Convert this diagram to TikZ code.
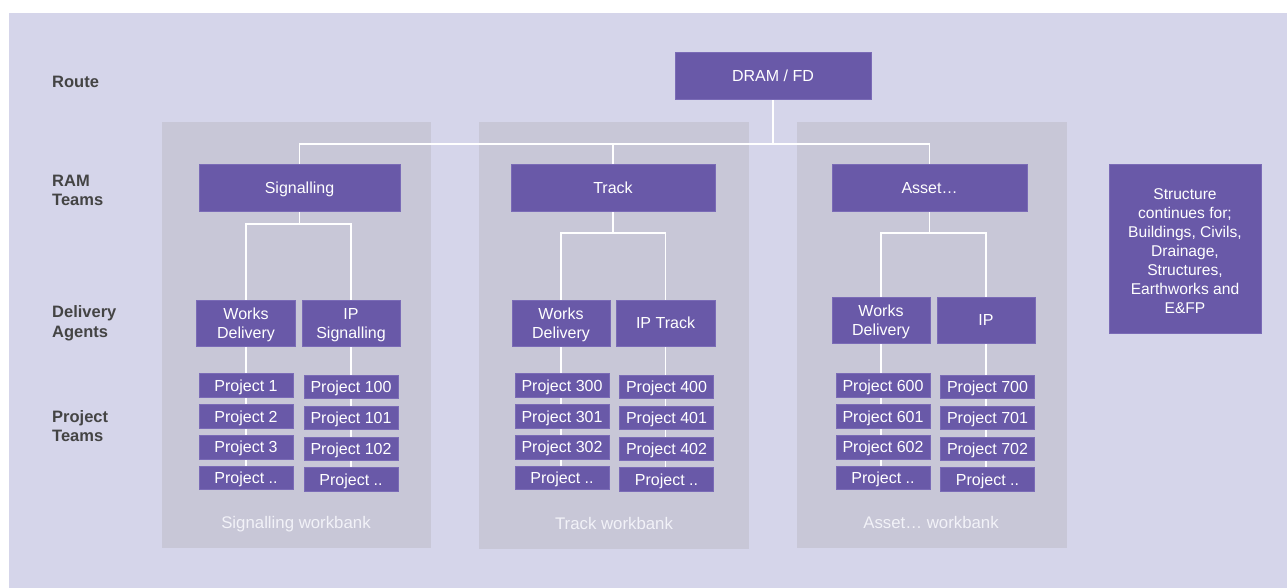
\documentclass[tikz,border=0pt]{standalone}
\usepackage{fontspec}
\setmainfont{Liberation Sans}
\definecolor{bglav}{HTML}{D5D5EA}
\definecolor{panel}{HTML}{C8C7D7}
\definecolor{purp}{HTML}{6959A8}
\definecolor{purpedge}{HTML}{7A6BB6}
\definecolor{lbl}{HTML}{444444}
\definecolor{wbtext}{HTML}{F2F2F8}
\pgfdeclarelayer{back}
\pgfdeclarelayer{mid}
\pgfsetlayers{back,mid,main}
\tikzset{
  box/.style={fill=purp, draw=purpedge, line width=0.6pt, text=white, inner sep=0pt, align=center,
    text depth=0pt, font=\fontsize{16}{19}\selectfont},
  proj/.style={box, minimum width=94pt, minimum height=23.5pt},
  deliv/.style={box, minimum width=98pt, minimum height=46pt},
  ram/.style={box, minimum height=47pt},
  panelbox/.style={fill=panel, draw=none},
  rowlabel/.style={anchor=west, inner sep=0pt, align=left, text=lbl, text depth=0pt,
    font=\fontsize{16.5}{19.5}\selectfont\bfseries},
  wblabel/.style={text=wbtext, inner sep=0pt, text depth=0pt, font=\fontsize{16.8}{19}\selectfont},
  conn/.style={draw=white, line width=1.5pt}
}
\begin{document}
\begin{tikzpicture}[x=1pt,y=-1pt]
\useasboundingbox (0,0) rectangle (1287,588);
\begin{pgfonlayer}{back}
\fill[white] (0,0) rectangle (1287,588);
\fill[bglav] (9,13) rectangle (1287,588);
% workbank panels
\fill[panelbox] (162,122) rectangle (431,548);
\fill[panelbox] (479,122) rectangle (749,549);
\fill[panelbox] (797,122) rectangle (1067,548);
\end{pgfonlayer}

% row labels
\node[rowlabel] (lroute) at (52,82) {Route};
\node[rowlabel] (lram) at (52,190.5) {RAM\\Teams};
\node[rowlabel] (ldel) at (52,321.5) {Delivery\\Agents};
\node[rowlabel] (lproj) at (52,426) {Project\\Teams};

% top
\node[box, minimum width=196pt, minimum height=47pt] (dram) at (773,75.5) {DRAM / FD};

% RAM teams
\node[ram, minimum width=201pt] (sig) at (299.5,187.5) {Signalling};
\node[ram, minimum width=204pt] (trk) at (613,187.5) {Track};
\node[ram, minimum width=195pt] (ast) at (929.5,187.5) {Asset\ldots};

% delivery agents
\node[deliv, minimum width=99pt] (sigwd) at (246,323) {Works\\Delivery};
\node[deliv] (sigip) at (351,323) {IP\\Signalling};
\node[deliv] (trkwd) at (561,323) {Works\\Delivery};
\node[deliv, minimum width=99pt] (trkip) at (665.5,323) {IP Track};
\node[deliv] (astwd) at (881,320) {Works\\Delivery};
\node[deliv] (astip) at (986,320) {IP};

% project stacks
\foreach \col/\cx/\lab/\yo in {sl/246/{1,2,3,..}/0, sr/351/{100,101,102,..}/1.5,
                               tl/562/{300,301,302,..}/0, tr/666.5/{400,401,402,..}/1.5,
                               al/883/{600,601,602,..}/0, ar/987.5/{700,701,702,..}/1.5} {
  \foreach \t [count=\i] in \lab {
    \pgfmathsetmacro{\py}{385.5+(\i-1)*30.8+\yo}
    \node[proj] (\col p\i) at (\cx,\py) {Project \t};
  }
}

% workbank labels
\node[wblabel] (wbs) at (296,522) {Signalling workbank};
\node[wblabel] (wbt) at (614,523) {Track workbank};
\node[wblabel] (wba) at (931,522) {Asset\ldots\ workbank};

% side note
\node[box, minimum width=152pt, minimum height=169pt, font=\fontsize{15.6}{19}\selectfont,
      text height=130pt] (more) at (1185,248.5)
  {Structure\\continues for;\\Buildings, Civils,\\Drainage,\\Structures,\\Earthworks and\\E\&FP};

% connectors
\begin{pgfonlayer}{mid}
\coordinate (topj) at (773,144);
\draw[conn] (dram.south) -- (topj);
\draw[conn] (sig.north) |- (ast.north |- topj) -- (ast.north);
\draw[conn] (trk.north) -- (trk.north |- topj);

\coordinate (sigj) at (299.5,224);
\draw[conn] (sig.south) -- (sigj);
\draw[conn] (sigwd.north) |- (sigip.north |- sigj) -- (sigip.north);
\coordinate (trkj) at (613,233);
\draw[conn] (trk.south) -- (trkj);
\draw[conn] (trkwd.north) |- (trkip.north |- trkj) -- (trkip.north);
\coordinate (astj) at (929.5,233);
\draw[conn] (ast.south) -- (astj);
\draw[conn] (astwd.north) |- (astip.north |- astj) -- (astip.north);

\draw[conn] (sigwd.south) -- (sigwd.south |- slp4.north);
\draw[conn] (sigip.south) -- (sigip.south |- srp4.north);
\draw[conn] (trkwd.south) -- (trkwd.south |- tlp4.north);
\draw[conn] (trkip.south) -- (trkip.south |- trp4.north);
\draw[conn] (astwd.south) -- (astwd.south |- alp4.north);
\draw[conn] (astip.south) -- (astip.south |- arp4.north);
\end{pgfonlayer}
\end{tikzpicture}
\end{document}
